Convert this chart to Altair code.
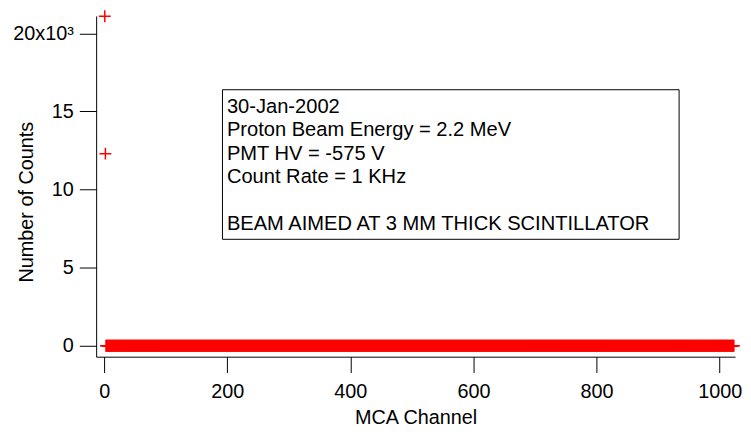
import altair as alt
import pandas as pd

# ---- data ----
channels = list(range(1, 1024))
counts = [21100, 12300] + [0] * 1021

x_ticks = [0, 200, 400, 600, 800, 1000]
y_ticks = [0, 5000, 10000, 15000, 20000]

annotation_lines = [
    "30-Jan-2002",
    "Proton Beam Energy = 2.2 MeV",
    "PMT HV = -575 V",
    "Count Rate = 1 KHz",
]
annotation_note = "BEAM AIMED AT 3 MM THICK SCINTILLATOR"

x_title = "MCA Channel"
y_title = "Number of Counts"

df = pd.DataFrame({"channel": channels, "counts": counts})

FONT = "Liberation Sans"
FS = 20
LH = 23.7
PLUS = "M-1,0L1,0M0,-1L0,1"

x_scale = alt.Scale(domain=[-13, 1025], nice=False, zero=False)
y_scale = alt.Scale(domain=[-700, 21120], nice=False, zero=False)

x_axis = alt.Axis(
    values=x_ticks, title=x_title, grid=False, tickSize=16, labelPadding=25,
    format="d",
    labelBaseline="alphabetic", labelFlush=False, labelOverlap=False,
    titleBaseline="alphabetic", titleY=67,
)
y_axis = alt.Axis(
    values=y_ticks, title=y_title, grid=False, tickSize=17, labelPadding=6,
    labelExpr="datum.value == 20000 ? '20x10\u00b3' : format(datum.value / 1000, 'd')",
    labelOverlap=False, labelFlush=False,
    titleAngle=270, titleBaseline="alphabetic", titleAlign="center",
    titleX=-64, titleY=187.5,
)

points = alt.Chart(df).mark_point(
    shape=PLUS, filled=False, color="#ff0000", size=144, strokeWidth=1.5,
    opacity=1, clip=False,
).encode(
    x=alt.X("channel:Q", scale=x_scale, axis=x_axis),
    y=alt.Y("counts:Q", scale=y_scale, axis=y_axis),
)

one = alt.Data(values=[{"k": 0}])

box = alt.Chart(one).mark_rect(
    fill="white", stroke="black", strokeWidth=1,
).encode(
    x=alt.value(127.5), x2=alt.value(588.5),
    y=alt.value(74.5), y2=alt.value(225.5),
)

text_style = dict(align="left", baseline="alphabetic", font=FONT,
                  fontSize=20.3, lineHeight=LH, color="black")

note = alt.Chart(one).mark_text(**text_style).encode(
    x=alt.value(132), y=alt.value(98), text=alt.value(annotation_lines),
)
note2 = alt.Chart(one).mark_text(**text_style).encode(
    x=alt.value(132), y=alt.value(98 + 5 * LH), text=alt.value(annotation_note),
)

chart = alt.layer(box, note, note2, points).properties(
    width=645, height=344,
    padding={"left": 89, "top": 6, "right": 8, "bottom": 70},
    autosize=alt.AutoSizeParams(type="none"),
).configure_view(stroke=None).configure_axis(
    domainColor="black", tickColor="black", labelColor="black",
    titleColor="black", labelFont=FONT, titleFont=FONT,
    labelFontSize=FS, titleFontSize=FS, titleFontWeight="normal",
    domainWidth=1, tickWidth=1,
)

chart.save("out.html", embed_options={"renderer": "svg", "actions": False})
